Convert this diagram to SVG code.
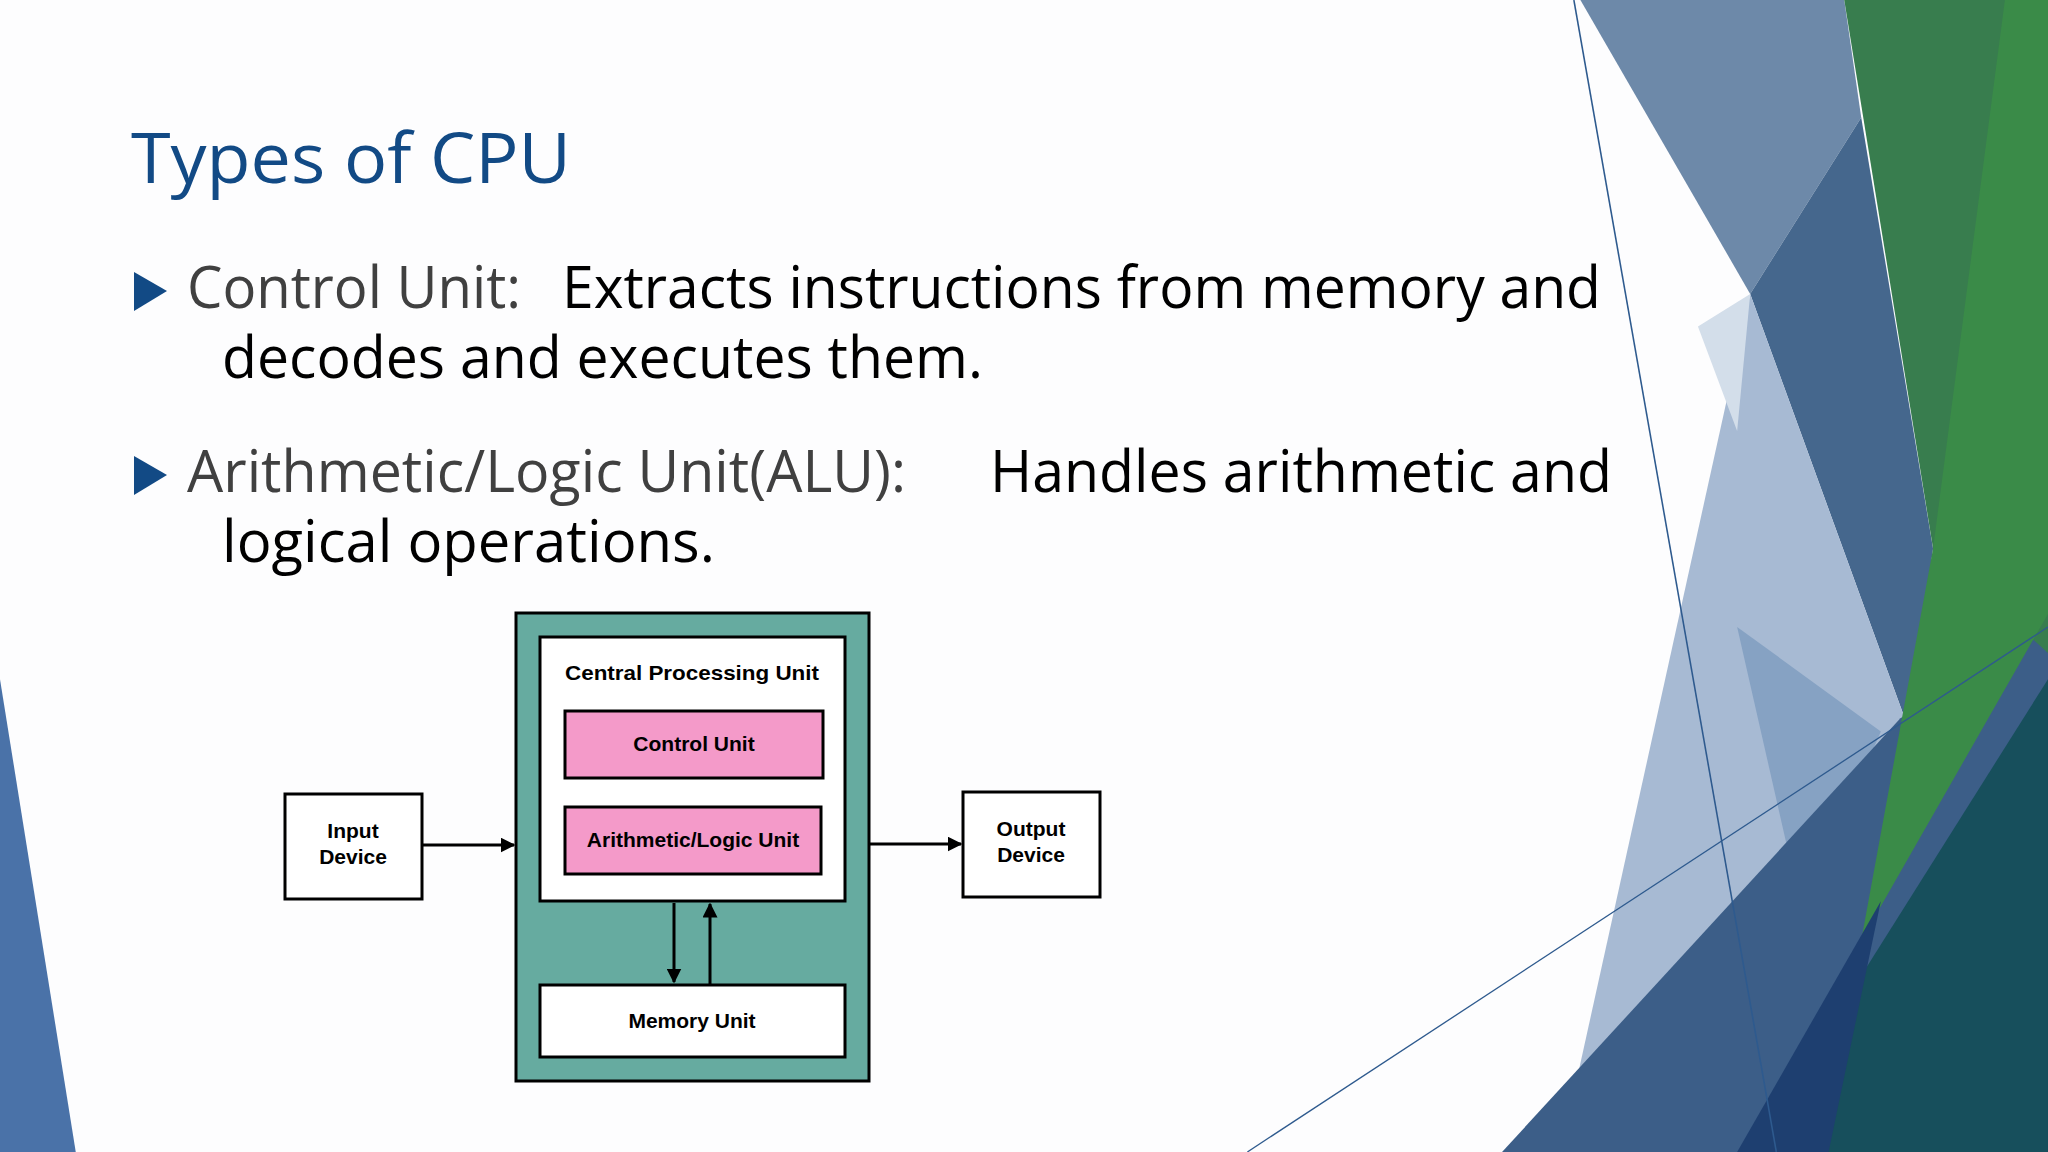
<svg xmlns="http://www.w3.org/2000/svg" width="2048" height="1152" viewBox="0 0 2048 1152">
<style>
.body{font-family:"Open Sans","DejaVu Sans",sans-serif;font-size:58px}
.hd{fill:#404040}
.tx{fill:#000}
.lbl{font-family:"Liberation Sans",Arial,sans-serif;font-weight:bold;font-size:21px;fill:#000;text-anchor:middle}
.box{stroke:#000;stroke-width:3}
.con{stroke:#000;stroke-width:3;fill:none;marker-end:url(#ah)}
</style>
<defs>
<marker id="ah" viewBox="0 0 10 10" refX="9" refY="5" markerWidth="5" markerHeight="5" orient="auto"><path d="M0,0L10,5L0,10z" fill="#000"/></marker>
</defs>
<rect width="2048" height="1152" fill="#fdfdfe"/>
<g id="decor" transform="scale(1.30612)">
<polygon points="0,520 58,882 0,882" fill="#4a72a8"/>
<polygon points="1210,0 1412,0 1425,90 1340,225" fill="#6d89a9"/>
<polygon points="1425,90 1480,420 1462,560 1340,225" fill="#45678d"/>
<polygon points="1340,225 1462,560 1330,882 1195,882" fill="#a7bad3"/>
<polygon points="1300,250 1340,225 1330,330" fill="#d3deea"/>
<polygon points="1330,480 1440,560 1380,700" fill="#86a2c3"/>
<polygon points="1150,882 1455,550 1568,480 1568,882" fill="#3c5e88"/>
<polygon points="1412,0 1568,0 1568,500 1480,420" fill="#387d4e"/>
<polygon points="1535,0 1568,0 1568,470 1425,720 1480,420" fill="#3a8b48"/>
<polygon points="1340,882 1568,520 1568,882" fill="#174f5c"/>
<polygon points="1330,882 1440,690 1400,882" fill="#1e3f70"/>
<line x1="1205" y1="0" x2="1360" y2="882" stroke="#2e5a8e" stroke-width="1.2"/>
<line x1="955" y1="882" x2="1568" y2="480" stroke="#2e5a8e" stroke-width="1"/>
</g>
<text x="131" y="183" font-family="Open Sans, DejaVu Sans, sans-serif" font-size="70" fill="#124a85" textLength="440" lengthAdjust="spacingAndGlyphs">Types of CPU</text>
<polygon points="134,272 167,291 134,311" fill="#124a85"/>
<text class="body hd" x="187" y="308" textLength="334" lengthAdjust="spacingAndGlyphs">Control Unit:</text>
<text class="body tx" x="562" y="308" textLength="1039" lengthAdjust="spacingAndGlyphs">Extracts instructions from memory and</text>
<text class="body tx" x="222" y="378" textLength="761" lengthAdjust="spacingAndGlyphs">decodes and executes them.</text>
<polygon points="134,456 167,475 134,495" fill="#124a85"/>
<text class="body hd" x="187" y="492" textLength="719" lengthAdjust="spacingAndGlyphs">Arithmetic/Logic Unit(ALU):</text>
<text class="body tx" x="990" y="492" textLength="622" lengthAdjust="spacingAndGlyphs">Handles arithmetic and</text>
<text class="body tx" x="222" y="562" textLength="493" lengthAdjust="spacingAndGlyphs">logical operations.</text>
<g id="cpu">
<rect class="box" x="516" y="613" width="353" height="468" fill="#66aba0"/>
<rect class="box" x="540" y="637" width="305" height="264" fill="#fff"/>
<text class="lbl" x="692" y="680" textLength="254" lengthAdjust="spacingAndGlyphs">Central Processing Unit</text>
</g>
<g id="control">
<rect class="box" x="565" y="711" width="258" height="67" fill="#f49ac9"/>
<text class="lbl" x="694" y="751">Control Unit</text>
</g>
<g id="alu">
<rect class="box" x="565" y="807" width="256" height="67" fill="#f49ac9"/>
<text class="lbl" x="693" y="847">Arithmetic/Logic Unit</text>
</g>
<g id="memory">
<rect class="box" x="540" y="985" width="305" height="72" fill="#fff"/>
<text class="lbl" x="692" y="1028">Memory Unit</text>
</g>
<g id="input">
<rect class="box" x="285" y="794" width="137" height="105" fill="#fff"/>
<text class="lbl" x="353" y="838">Input</text>
<text class="lbl" x="353" y="864">Device</text>
</g>
<g id="output">
<rect class="box" x="963" y="792" width="137" height="105" fill="#fff"/>
<text class="lbl" x="1031" y="836">Output</text>
<text class="lbl" x="1031" y="862">Device</text>
</g>
<g id="connectors">
<line class="con" x1="422" y1="845" x2="514" y2="845"/>
<line class="con" x1="869" y1="844" x2="961" y2="844"/>
<line class="con" x1="674" y1="903" x2="674" y2="982"/>
<line class="con" x1="710" y1="984" x2="710" y2="904"/>
</g>
</svg>
